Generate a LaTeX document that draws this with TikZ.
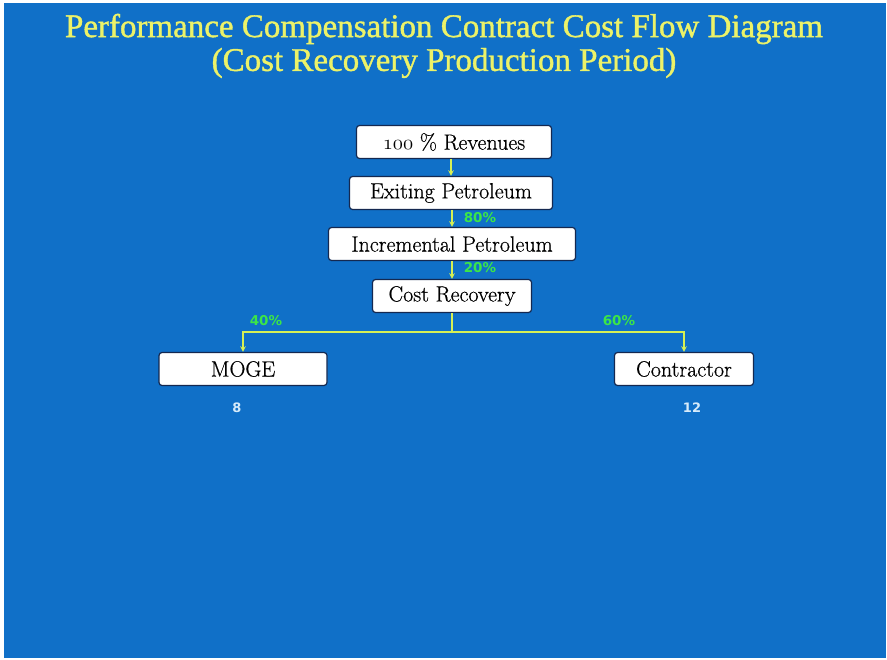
\documentclass[tikz,border=0pt]{standalone}
\usepackage{fontspec}
\newfontfamily\titlefont[FakeBold=1.2]{Liberation Serif}
\newfontfamily\boxfont[FakeBold=0.6]{Latin Modern Roman}
\newfontfamily\labelfont{DejaVu Sans}
\definecolor{slideblue}{RGB}{16,112,200}
\definecolor{titleyellow}{RGB}{236,242,104}
\definecolor{flowyellow}{RGB}{214,240,84}
\definecolor{pctgreen}{RGB}{60,230,70}
\definecolor{sharewhite}{RGB}{215,235,250}
\definecolor{boxedge}{RGB}{20,40,80}
\begin{document}
\begin{tikzpicture}[x=1pt,y=-1pt,>=stealth,
    box/.style={draw=boxedge, line width=1.2pt, fill=white, rounded corners=3pt,
        minimum height=33pt, inner sep=0pt, font=\boxfont\fontsize{22}{24}\selectfont},
    flow/.style={draw=flowyellow, line width=1.5pt},
    pct/.style={font=\labelfont\bfseries\fontsize{13.5}{15}\selectfont, text=pctgreen},
    share/.style={font=\labelfont\bfseries\fontsize{13}{15}\selectfont, text=sharewhite},
    heading/.style={font=\titlefont\fontsize{33}{36}\selectfont, text=titleyellow}]
    \useasboundingbox (0,0) rectangle (887,660);
    \fill[white] (0,0) rectangle (887,660);
    \fill[slideblue] (4,3) rectangle (886,658);
    % title
    \node[heading] (title1) at (444,29) {Performance Compensation Contract Cost Flow Diagram};
    \node[heading] (title2) at (444,63) {(Cost Recovery Production Period)};
    % boxes
    \node[box, minimum width=195pt] (rev) at (454,142) {$\mathnormal{100}$ \% Revenues};
    \node[box, minimum width=203pt] (exist) at (451,193) {Exiting Petroleum};
    \node[box, minimum width=247pt] (incr) at (452,244) {Incremental Petroleum};
    \node[box, minimum width=159pt] (cost) at (452,296) {Cost Recovery};
    \node[box, minimum width=168pt] (moge) at (243,369) {MOGE};
    \node[box, minimum width=139pt] (contr) at (684,369) {Contractor};
    % arrows down the middle
    \draw[flow,->] (rev.south -| exist.north) -- (exist.north);
    \draw[flow,->] (exist.south -| incr.north) -- (incr.north);
    \draw[flow,->] (incr.south -| cost.north) -- (cost.north);
    \node[pct] (p80) at (480,218) {80\%};
    \node[pct] (p20) at (480,268) {20\%};
    % split to the two parties
    \coordinate (split) at (452,332);
    \draw[flow] (cost.south) -- (split);
    \draw[flow,->] (split) -| (moge.north);
    \draw[flow,->] (split) -| (contr.north);
    \node[pct] (p40) at (266,321) {40\%};
    \node[pct] (p60) at (619,321) {60\%};
    \node[share] (n8) at (237,408) {8};
    \node[share] (n12) at (692,408) {12};
\end{tikzpicture}
\end{document}
